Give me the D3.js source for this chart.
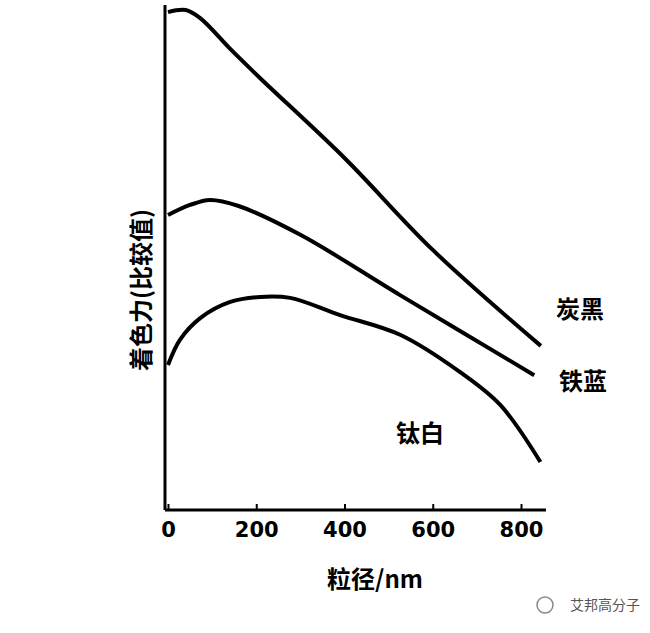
<!DOCTYPE html>
<html><head><meta charset="utf-8">
<script src="https://cdn.jsdelivr.net/npm/d3@7"></script>
<style>body{margin:0;background:#fff}text{font-family:"Noto Sans CJK SC",sans-serif;font-weight:bold}</style>
</head><body><svg id="c" width="650" height="633"></svg>
<script>
// particle size (nm) vs relative tinting strength
const xTicks = [0, 200, 400, 600, 800];
const carbonBlack = [[0,98.6],[40,99],[73,97.4],[141,91.3],[209,85.5],[400,69.7],[600,51.5],[845,32.5]];
const ironBlue = [[0,58.4],[50,60.4],[95,61.4],[160,60.2],[300,54.5],[525,42.6],[830,26.7]];
const titanWhite = [[0,28.7],[27,33.7],[73,38],[141,41.2],[209,42.2],[277,42],[390,38.6],[526,34.7],[662,27.3],[753,20.8],[844,9.5]];
const seriesNames = ["炭黑", "铁蓝", "钛白"];

const svg = d3.select("#c");
const x = d3.scaleLinear().domain([0, 800]).range([168, 521]);
const y = d3.scaleLinear().domain([0, 100]).range([510, 5]);

svg.append("line").attr("x1", 165).attr("x2", 165).attr("y1", 5).attr("y2", 510)
  .attr("stroke", "#000").attr("stroke-width", 3);
svg.append("line").attr("x1", 165).attr("x2", 546).attr("y1", 510).attr("y2", 510)
  .attr("stroke", "#000").attr("stroke-width", 3);

const ax = svg.append("g").attr("transform", "translate(0,510)")
  .call(d3.axisBottom(x).tickValues(xTicks).tickSize(-6).tickPadding(12));
ax.select(".domain").remove();
ax.selectAll("line").attr("stroke-width", 2);
ax.selectAll("text").attr("font-size", 21).attr("fill", "#000")
  .style("font-family", "'DejaVu Sans',sans-serif");

const line = d3.line().x(d => x(d[0])).y(d => y(d[1])).curve(d3.curveCatmullRom);
[carbonBlack, ironBlue, titanWhite].forEach(s => {
  svg.append("path").attr("d", line(s)).attr("fill", "none")
    .attr("stroke", "#000").attr("stroke-width", 4);
});

const labelPos = [[580, 318], [583, 390], [420, 442]];
seriesNames.forEach((n, i) => svg.append("text").attr("x", labelPos[i][0]).attr("y", labelPos[i][1])
  .attr("text-anchor", "middle").attr("font-size", 24).text(n));

svg.append("text").attr("x", 375).attr("y", 588).attr("text-anchor", "middle")
  .attr("font-size", 24).text("粒径/nm");
svg.append("text").attr("transform", "translate(150,290) rotate(-90)")
  .attr("text-anchor", "middle").attr("font-size", 24).text("着色力(比较值)");

svg.append("text").attr("x", 640).attr("y", 610).attr("text-anchor", "end")
  .attr("font-size", 14).attr("fill", "#555").style("font-weight", "normal").text("艾邦高分子");
svg.append("circle").attr("cx", 545).attr("cy", 605).attr("r", 8)
  .attr("fill", "none").attr("stroke", "#888").attr("stroke-width", 1.5);
</script></body></html>
